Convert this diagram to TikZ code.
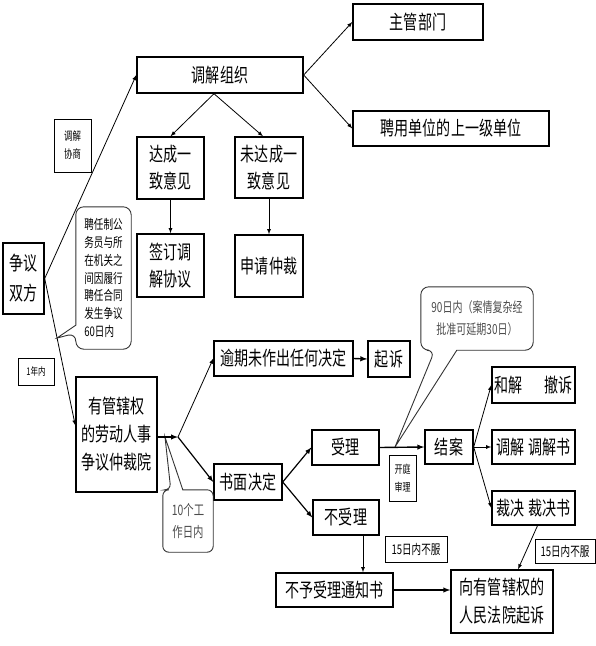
\documentclass[tikz,border=0pt]{standalone}
\usepackage{fontspec}
\setmainfont{Noto Sans CJK SC}[FakeStretch=0.72]
\usetikzlibrary{calc}

\tikzset{
  box/.style={draw, line width=1.4pt, inner sep=0pt, align=center,
    font=\fontsize{19.5}{27}\selectfont},
  note/.style={draw, line width=0.9pt, inner sep=0pt, align=center,
    font=\fontsize{11.7}{18}\selectfont},
  bubbletext/.style={inner sep=0pt, align=center},
  bubble/.style={line width=0.9pt, draw=black!80},
  link/.style={->, line width=0.8pt},
  bold link/.style={->, line width=1.4pt},
}

\begin{document}
\begin{tikzpicture}[x=1pt, y=-1pt, >=latex]
    \useasboundingbox (0,0) rectangle (596,646);

    % 争议双方与调解
    \node[box, minimum width=41pt, minimum height=71pt, font=\fontsize{19.5}{30}\selectfont] (disp) at (23.5,278.5) {争议\\双方};
    \node[box, minimum width=166pt, minimum height=36pt] (med) at (220,75) {调解组织};
    \node[box, minimum width=67pt, minimum height=62pt] (agree) at (170.5,168) {达成一\\致意见};
    \node[box, minimum width=68pt, minimum height=61pt] (noagree) at (269,167.5) {未达成一\\致意见};
    \node[box, minimum width=67pt, minimum height=63pt] (sign) at (170.5,265.5) {签订调\\解协议};
    \node[box, minimum width=68pt, minimum height=62pt] (apply) at (269,266) {申请仲裁};
    \node[box, minimum width=130pt, minimum height=36pt] (dept) at (418,22) {主管部门};
    \node[box, minimum width=196pt, minimum height=35pt] (upper) at (451,128.5) {聘用单位的上一级单位};

    % 小标注
    \node[note, minimum width=37pt, minimum height=53pt] (talk) at (72.5,145.5) {调解\\协商};
    \node[note, minimum width=36pt, minimum height=27pt, font=\fontsize{10.5}{12}\selectfont] (year) at (36,371.5) {1年内};
    \node[note, minimum width=27pt, minimum height=46pt, font=\fontsize{11.1}{18}\selectfont] (hearing) at (402.5,478) {开庭\\审理};
    \node[note, minimum width=62pt, minimum height=26pt, font=\fontsize{13.3}{14}\selectfont] (lateA) at (416,549) {15日内不服};
    \node[note, minimum width=60pt, minimum height=24pt, font=\fontsize{13.3}{14}\selectfont] (lateB) at (565,551) {15日内不服};

    % 仲裁
    \node[box, minimum width=81pt, minimum height=115pt, font=\fontsize{19.5}{28}\selectfont] (court) at (116.5,434.5) {有管辖权\\的劳动人事\\争议仲裁院};
    \node[box, minimum width=139pt, minimum height=35pt] (overdue) at (283.5,358.5) {逾期未作出任何决定};
    \node[box, minimum width=42pt, minimum height=36pt] (sue) at (389,359) {起诉};
    \node[box, minimum width=68pt, minimum height=36pt] (written) at (248,482) {书面决定};
    \node[box, minimum width=67pt, minimum height=35pt] (accept) at (345.5,447.5) {受理};
    \node[box, minimum width=66pt, minimum height=35pt] (reject) at (346,517.5) {不受理};
    \node[box, minimum width=48pt, minimum height=34pt] (close) at (449,447) {结案};
    \node[box, minimum width=83pt, minimum height=36pt] (settle) at (533.5,385) {和解\hspace{1.1em}撤诉};
    \node[box, minimum width=83pt, minimum height=34pt] (mediate) at (533.5,447) {调解 调解书};
    \node[box, minimum width=83pt, minimum height=34pt] (award) at (533.5,508) {裁决 裁决书};
    \node[box, minimum width=117pt, minimum height=34pt] (notice) at (334.5,590) {不予受理通知书};
    \node[box, minimum width=102pt, minimum height=63pt, font=\fontsize{19.5}{28}\selectfont] (lawsuit) at (502,601.5) {向有管辖权的\\人民法院起诉};

    % 标注气泡
    \node[bubbletext, align=left, minimum width=55pt, minimum height=142pt, font=\fontsize{13.3}{17.7}\selectfont] (hire) at (103.5,278) {聘任制公\\务员与所\\在机关之\\间因履行\\聘任合同\\发生争议\\60日内};
    \node[bubbletext, minimum width=50pt, minimum height=62pt, text=black!70, font=\fontsize{14.4}{22}\selectfont] (days10) at (188,521) {10个工\\作日内};
    \node[bubbletext, minimum width=112pt, minimum height=63pt, text=black!70, font=\fontsize{13.9}{22}\selectfont] (days90) at (477,318.5) {90日内（案情复杂经\\批准可延期30日）};
    \coordinate (hiretip) at (57,338);
    \coordinate (tentip) at (165,437);
    \coordinate (ninetip) at (395,447);
    \draw[bubble] ([yshift=24pt]hire.south west) [rounded corners=8pt] -- (hire.north west) -- (hire.north east) -- (hire.south east) -- (hire.south west) -- ([yshift=16pt]hire.south west) [sharp corners] -- (hiretip) -- cycle;
    \draw[bubble] ([xshift=20pt]days10.north west) [rounded corners=6pt] -- (days10.north east) -- (days10.south east) -- (days10.south west) -- (days10.north west) -- ([xshift=8pt]days10.north west) [sharp corners] -- (tentip) -- cycle;
    \draw[bubble] ([xshift=36pt]days90.south west) [rounded corners=8pt] -- (days90.south east) -- (days90.north east) -- (days90.north west) -- (days90.south west) -- ([xshift=14pt]days90.south west) [sharp corners] -- (ninetip) -- cycle;

    % 调解一支
    \draw[link] (disp.east) -- (med.west);
    \draw[link] (disp.east) -- ([yshift=9pt]court.west);
    \draw[link] ([xshift=-6pt]med.south) -- (agree.north);
    \draw[link] ([xshift=-6pt]med.south) -- ([xshift=-6pt]noagree.north);
    \draw[link] (med.east) -- (dept.west);
    \draw[link] (med.east) -- (upper.west);
    \draw[link] (agree.south) -- (sign.north);
    \draw[link] (noagree.south) -- (apply.north);

    % 仲裁一支
    \coordinate (fork) at (178,437);
    \draw[bold link] (court.east |- fork) -- (fork);
    \draw[link] (fork) -- (overdue.west);
    \draw[link, line width=1.2pt] (fork) -- (written.west);
    \draw[bold link] (overdue.east) -- (sue.west);
    \draw[link, line width=1.2pt] (written.east) -- (accept.west);
    \draw[link, line width=1.2pt] (written.east) -- (reject.west);
    \draw[bold link] (accept.east) -- (close.west);
    \draw[link] (close.east) -- (settle.west);
    \draw[link] (close.east) -- (mediate.west);
    \draw[link] (close.east) -- (award.west);

    % 起诉
    \coordinate (drop) at ([xshift=17pt]reject.south);
    \draw[link] (drop) -- (drop |- notice.north);
    \draw[bold link] (notice.east) -- (notice.east -| lawsuit.west);
    \draw[link] ([xshift=4pt]award.south) -- ([xshift=16pt]lawsuit.north);
\end{tikzpicture}
\end{document}
